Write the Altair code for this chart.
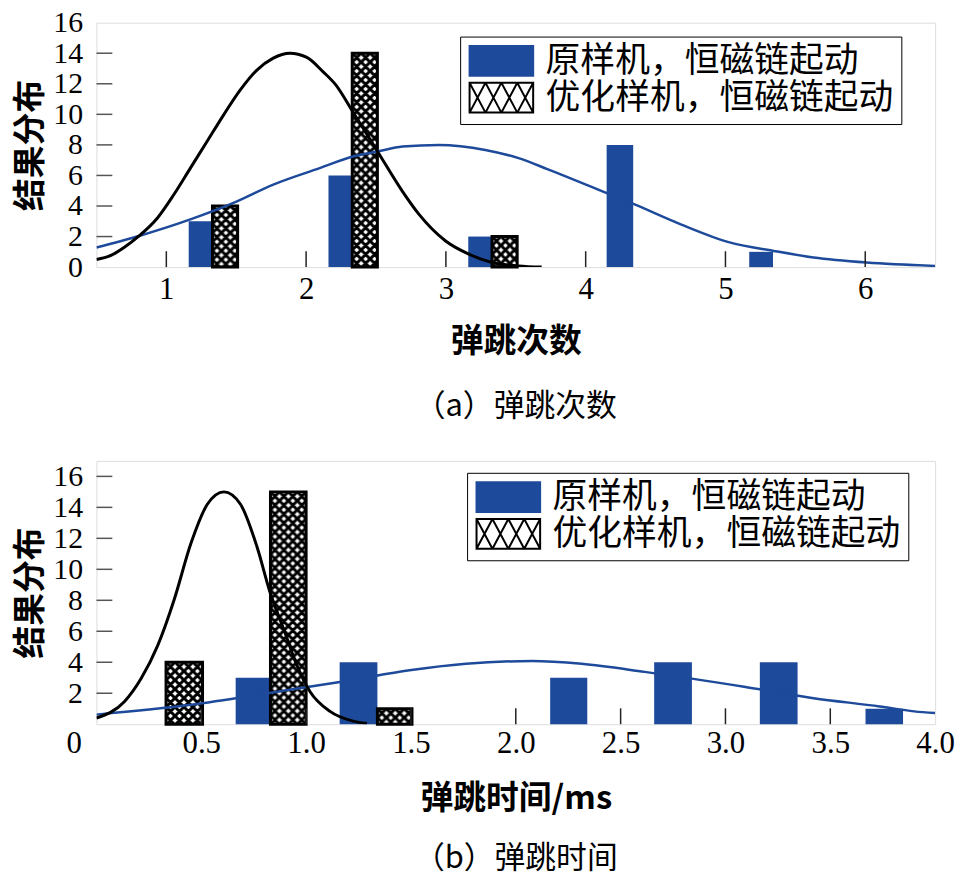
import base64
import altair as alt
import pandas as pd

SERIES = ["原样机，恒磁链起动", "优化样机，恒磁链起动"]
BLUE = "#1e4a9b"
CJK = "Noto Sans CJK SC"
NUM = "Liberation Serif"

# ---------------- panel (a): bounce count ----------------
a_blue_x0 = [1.16, 2.16, 3.16, 4.15, 5.17]
a_blue_x1 = [1.33, 2.33, 3.33, 4.34, 5.34]
a_blue_n = [3, 6, 2, 8, 1]
a_hatch_x0 = [1.33, 2.33, 3.33]
a_hatch_x1 = [1.51, 2.51, 3.51]
a_hatch_n = [4, 14, 2]
a_black_x = [0.5, 0.6, 0.7, 0.805, 0.935, 1.054, 1.172, 1.291, 1.409, 1.528, 1.646, 1.765, 1.883,
             2.002, 2.12, 2.215, 2.334, 2.511, 2.689, 2.808, 2.998, 3.164, 3.33, 3.52, 3.685]
a_black_y = [0.5, 0.75, 1.3, 2.04, 3.2, 4.75, 6.48, 8.22, 9.95, 11.58, 12.88, 13.68, 14.0,
             13.74, 12.8, 11.9, 10.17, 7.57, 4.96, 3.45, 1.71, 0.85, 0.3, 0.08, 0.0]
a_bluec_x = [0.5, 0.805, 1.172, 1.48, 1.765, 2.097, 2.334, 2.511, 2.689, 2.95, 3.282, 3.52, 3.73,
             4.147, 4.35, 4.68, 5.036, 5.345, 5.63, 6.01, 6.5]
a_bluec_y = [1.28, 2.04, 3.12, 4.2, 5.4, 6.48, 7.24, 7.57, 7.89, 8.0, 7.67, 7.13, 6.4,
             4.86, 4.1, 2.8, 1.6, 1.06, 0.63, 0.3, 0.08]
a_xticks = [1, 2, 3, 4, 5, 6]
a_yticks = [0, 2, 4, 6, 8, 10, 12, 14, 16]
a_inner_yticks = [2, 4, 6, 8, 10, 12, 14]

# ---------------- panel (b): bounce time ----------------
b_blue_x0 = [0.664, 1.16, 2.164, 2.66, 3.164, 3.668]
b_blue_x1 = [0.83, 1.34, 2.341, 2.84, 3.344, 3.847]
b_blue_n = [3, 4, 3, 4, 4, 1]
b_hatch_x0 = [0.332, 0.83, 1.34]
b_hatch_x1 = [0.506, 1.0, 1.505]
b_hatch_n = [4, 15, 1]
b_black_x = [0.0, 0.134, 0.213, 0.292, 0.371, 0.45, 0.529, 0.608, 0.687, 0.766, 0.829, 0.893,
             0.956, 1.019, 1.114, 1.224, 1.29]
b_black_y = [0.4, 1.47, 2.95, 5.07, 8.05, 11.65, 14.2, 15.0, 14.2, 11.44, 8.47, 6.14,
             3.8, 2.1, 0.83, 0.2, 0.05]
b_bluec_x = [0.0, 0.45, 0.861, 1.2, 1.493, 1.762, 2.077, 2.314, 2.614, 3.089, 3.42, 3.736, 3.9, 4.0]
b_bluec_y = [0.62, 1.25, 2.1, 2.81, 3.48, 3.9, 4.08, 3.9, 3.38, 2.42, 1.68, 1.15, 0.83, 0.72]
b_xticks = [0, 0.5, 1.0, 1.5, 2.0, 2.5, 3.0, 3.5, 4.0]
b_yticks = [2, 4, 6, 8, 10, 12, 14, 16]
b_inner_xticks = [0.5, 1.0, 1.5, 2.0, 2.5, 3.0, 3.5]


# ---------------- styling helpers ----------------
def hatch_uri(w, h, sw):
    d = []
    for c in (-h, 0, h):
        d.append(f"M{-w},{c - h}L{2 * w},{c + 2 * h}")
    for c in (0, h, 2 * h):
        d.append(f"M{-w},{c + h}L{2 * w},{c - 2 * h}")
    svg = (
        "<svg xmlns='http://www.w3.org/2000/svg' width='100%' height='100%'>"
        f"<defs><pattern id='p' x='0' y='0' width='{w}' height='{h}' patternUnits='userSpaceOnUse'>"
        f"<rect width='{w}' height='{h}' fill='white'/>"
        f"<path d='{''.join(d)}' stroke='black' stroke-width='{sw}' fill='none'/>"
        "</pattern></defs>"
        "<rect x='0' y='0' width='100%' height='100%' fill='url(#p)'/></svg>"
    )
    return "data:image/svg+xml;base64," + base64.b64encode(svg.encode()).decode()


HATCH = hatch_uri(9, 9, 3.0)

HW = 32 / 15.0
RECT_PATH = f"M{-HW:.3f},-1H{HW:.3f}V1H{-HW:.3f}Z"
tile = 2 * HW / 4
hatch_lines = "".join(
    f"M{-HW + k * tile:.3f},-1L{-HW + (k + 1) * tile:.3f},1M{-HW + (k + 1) * tile:.3f},-1L{-HW + k * tile:.3f},1"
    for k in range(4)
)
HATCH_PATH = RECT_PATH + hatch_lines


def panel(W, H, xdom, ydom, xticks, xlabel_expr, yticks, inner_x, inner_y,
          bx0, bx1, bn, hx0, hx1, hn, kx, ky, cx, cy, xtitle, caption, lx, ly,
          xlab_pad, xtitle_pad, cap_off):
    xs = alt.Scale(domain=xdom, nice=False, zero=False)
    ys = alt.Scale(domain=ydom, nice=False, zero=False)
    xax = alt.Axis(values=xticks, labelExpr=xlabel_expr, labelFont=NUM, labelFontSize=31,
                   labelColor="black", labelPadding=xlab_pad, ticks=False, domain=False, grid=False,
                   labelOverlap=False, labelFlush=False,
                   labelAlign={"condition": {"test": "datum.value == 0", "value": "right"}, "value": "center"},
                   labelOffset={"condition": {"test": "datum.value == 0", "value": -15}, "value": 0},
                   title=xtitle, titleFont=CJK, titleFontSize=33, titleFontWeight="bold",
                   titleColor="black", titlePadding=xtitle_pad)
    yax = alt.Axis(values=yticks, format="d", labelFont=NUM, labelFontSize=30, labelColor="black",
                   labelPadding=14, ticks=False, domain=False, grid=False, labelOverlap=False,
                   labelFlush=False,
                   title="结果分布", titleFont=CJK, titleFontSize=33, titleFontWeight="bold",
                   titleColor="black", titlePadding=5)

    def X(f):
        return alt.X(f"{f}:Q", scale=xs, axis=xax)

    def Y(f):
        return alt.Y(f"{f}:Q", scale=ys, axis=yax)

    blue_df = pd.DataFrame({"x0": bx0, "x1": bx1, "n": bn})
    hatch_df = pd.DataFrame({"x0": hx0, "x1": hx1, "n": hn})
    black_df = pd.DataFrame({"x": kx, "y": ky})
    bluec_df = pd.DataFrame({"x": cx, "y": cy})

    blue_bars = alt.Chart(blue_df).mark_bar(color=BLUE).encode(
        x=X("x0"), x2="x1", y=Y("n"), y2=alt.datum(0))
    hatch_img = alt.Chart(hatch_df).mark_image(aspect=False).encode(
        x=X("x0"), x2="x1", y=Y("n"), y2=alt.datum(0), url=alt.value(HATCH))
    hatch_out = alt.Chart(hatch_df).mark_bar(fill="transparent", stroke="black", strokeWidth=3).encode(
        x=X("x0"), x2="x1", y=Y("n"), y2=alt.datum(0))
    blue_line = alt.Chart(bluec_df).mark_line(color=BLUE, strokeWidth=2.5, interpolate="monotone",
                                              clip=True).encode(x=X("x"), y=Y("y"))
    black_line = alt.Chart(black_df).mark_line(color="black", strokeWidth=3, interpolate="monotone",
                                               clip=True).encode(x=X("x"), y=Y("y"))
    xt = alt.Chart(pd.DataFrame({"t": inner_x})).mark_rule(color="#222", strokeWidth=1.5).encode(
        x=X("t"), y=alt.value(H), y2=alt.value(H - 16))
    yt = alt.Chart(pd.DataFrame({"t": inner_y})).mark_rule(color="#555", strokeWidth=1.5).encode(
        y=Y("t"), x=alt.value(0), x2=alt.value(16))

    leg = alt.Legend(title=None, orient="none", legendX=lx, legendY=ly, labelFont=CJK,
                     labelFontSize=35, labelColor="black", labelLimit=0, labelOffset=27,
                     symbolOffset=17, symbolSize=900, symbolStrokeWidth=2, rowPadding=-6,
                     strokeColor="black", padding=7, fillColor="white")
    legend_layer = alt.Chart(pd.DataFrame({"s": SERIES})).transform_filter("false").mark_point(
        filled=True, opacity=1).encode(
        shape=alt.Shape("s:N", scale=alt.Scale(domain=SERIES, range=[RECT_PATH, HATCH_PATH]), legend=leg),
        fill=alt.Fill("s:N", scale=alt.Scale(domain=SERIES, range=[BLUE, "white"]), legend=leg),
        stroke=alt.Stroke("s:N", scale=alt.Scale(domain=SERIES, range=[BLUE, "black"]), legend=leg),
    )

    return alt.layer(blue_bars, hatch_img, hatch_out, blue_line, black_line, xt, yt, legend_layer).properties(
        width=W, height=H,
        title=alt.TitleParams(text=caption, orient="bottom", anchor="middle", font=CJK, fontSize=31,
                              fontWeight="normal", color="black", offset=cap_off),
    )


pa = panel(844, 246, [0.5, 6.5], [0, 16], a_xticks, "format(datum.value, 'd')", a_yticks,
           a_xticks, a_inner_yticks, a_blue_x0, a_blue_x1, a_blue_n, a_hatch_x0, a_hatch_x1, a_hatch_n,
           a_black_x, a_black_y, a_bluec_x, a_bluec_y, "弹跳次数", "（a）弹跳次数", 366, 14,
           8, 21, 34)
pb = panel(844, 265, [0, 4], [0, 17], b_xticks,
           "datum.value == 0 ? '0' : format(datum.value, '.1f')", b_yticks,
           b_inner_xticks, b_yticks, b_blue_x0, b_blue_x1, b_blue_n, b_hatch_x0, b_hatch_x1, b_hatch_n,
           b_black_x, b_black_y, b_bluec_x, b_bluec_y, "弹跳时间/ms", "（b）弹跳时间", 373, 12,
           4, 25, 29)

chart = alt.vconcat(pa, pb, spacing=37).resolve_scale(
    shape="independent", fill="independent", stroke="independent"
).resolve_legend(shape="independent", fill="independent", stroke="independent").properties(
    padding={"left": 6, "top": -4, "right": 0, "bottom": 0}
).configure_view(stroke="#222", strokeWidth=1.5).configure(background="white")

chart.save("out.html", embed_options={"renderer": "svg", "actions": False})
